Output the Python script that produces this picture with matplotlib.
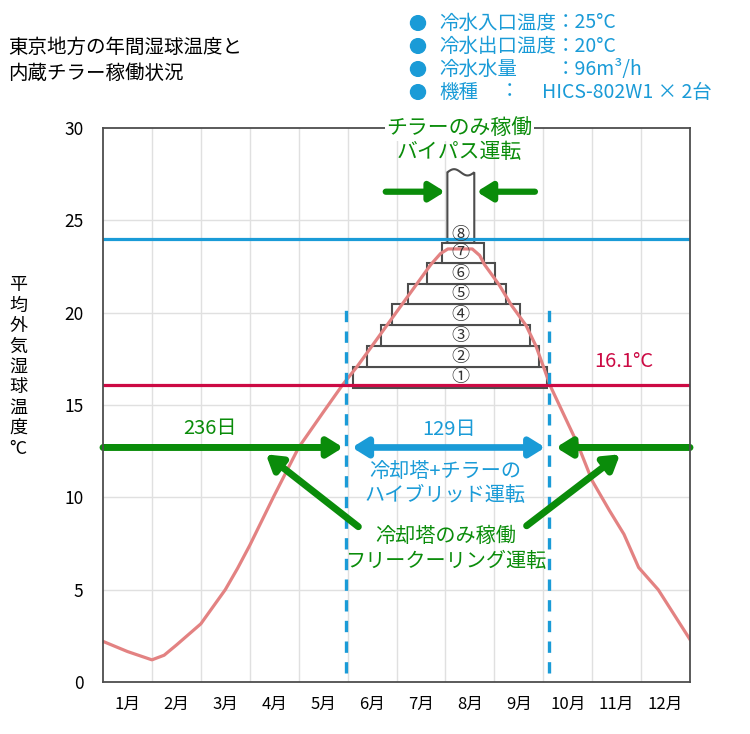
import numpy as np
import matplotlib
matplotlib.use("Agg")
import matplotlib.pyplot as plt
from matplotlib.patches import Rectangle, Polygon

plt.rcParams['font.family'] = ['Noto Sans CJK JP', 'DejaVu Sans']

# データ (月単位の位置 0-12, 湿球温度 °C)
month_labels = ['1月', '2月', '3月', '4月', '5月', '6月', '7月', '8月', '9月', '10月', '11月', '12月']
curve_x = [0, 0.5, 1.0, 1.25, 1.5, 2.0, 2.5, 2.75, 3.0, 3.25, 3.5, 4.0, 4.5, 4.9, 5.2, 5.5, 5.8, 6.1, 6.4, 6.7,
           6.9, 7.05, 7.55, 7.7, 7.8, 8.1, 8.35, 8.65, 8.85, 9.0, 9.15, 9.7, 10.0, 10.35, 10.65, 10.95, 11.35, 12.0]
curve_y = [2.2, 1.65, 1.2, 1.45, 2.0, 3.15, 5.0, 6.15, 7.4, 8.75, 10.1, 12.7, 14.6, 16.1, 17.1, 18.2, 19.3, 20.4, 21.5, 22.6,
           23.2, 23.45, 23.45, 23.1, 22.6, 21.5, 20.4, 19.3, 18.2, 17.1, 16.0, 12.9, 10.9, 9.3, 8.0, 6.2, 5.0, 2.3]

chiller_temp = 24.0
hybrid_temp = 16.1
hybrid_start = 4.97
hybrid_end = 9.12
days_free = '236日'
days_hybrid = '129日'

box_left = [5.11, 5.39, 5.68, 5.90, 6.23, 6.62, 6.94, 7.04]
box_right = [9.07, 8.92, 8.72, 8.53, 8.24, 8.02, 7.79, 7.59]
box_bottom = [15.93, 17.05, 18.19, 19.33, 20.45, 21.56, 22.67, 23.78]
box_top = [17.05, 18.19, 19.33, 20.45, 21.56, 22.67, 23.78, 27.6]
box_names = ['①', '②', '③', '④', '⑤', '⑥', '⑦', '⑧']

legend_rows = [('冷水入口温度', '：25°C'), ('冷水出口温度', '：20°C'),
               ('冷水水量', '：96m³/h'), ('機種', '：')]

BLUE = '#1A9BD7'
RED = '#CC0A44'
GREEN = '#0A8C0A'
PINK = '#E38282'
GRAY = '#4D4D4D'

fig = plt.figure(figsize=(7.5, 7.34), dpi=100)
ax = fig.add_axes([103/750, 52/734, 587/750, 554/734])
ax.set_xlim(0, 12)
ax.set_ylim(0, 30)

for s in ax.spines.values():
    s.set_color(GRAY)
    s.set_linewidth(1.3)
    s.set_zorder(6)

ax.set_yticks(range(0, 31, 5))
ax.set_xticks(np.arange(12) + 0.5)
ax.set_xticklabels(month_labels)
ax.tick_params(length=0, labelsize=12)
ax.tick_params(axis='y', pad=14, labelsize=12.5)
ax.tick_params(axis='x', pad=10)
for v in range(5, 30, 5):
    ax.axhline(v, color='#E0E0E0', lw=1, zorder=0)
for v in range(1, 12):
    ax.axvline(v, color='#E0E0E0', lw=1, zorder=0)

# チラー台数ボックス
for i in range(8):
    if i < 7:
        ax.add_patch(Rectangle((box_left[i], box_bottom[i]), box_right[i] - box_left[i],
                               box_top[i] - box_bottom[i], facecolor='white',
                               edgecolor=GRAY, lw=1.5, zorder=2))
    else:
        wx = np.linspace(box_left[i], box_right[i], 40)
        t = (wx - wx[0]) / (wx[-1] - wx[0])
        wy = box_top[i] + 0.17 * np.sin(2 * np.pi * t)
        pts = [(box_left[i], box_bottom[i])] + list(zip(wx, wy)) + [(box_right[i], box_bottom[i])]
        ax.add_patch(Polygon(pts, closed=True, facecolor='white', edgecolor=GRAY, lw=1.5, zorder=2))
    cy = (box_bottom[i] + box_top[i]) / 2 if i < 7 else box_bottom[i] + 0.45
    ax.text(7.30, cy, box_names[i], ha='center', va='center', fontsize=13, color='#333333', zorder=5)

ax.plot(curve_x, curve_y, color=PINK, lw=2.3, zorder=3, solid_joinstyle='round')
ax.axhline(chiller_temp, color=BLUE, lw=2.3, zorder=4)
ax.axhline(hybrid_temp, color=RED, lw=2.3, zorder=4)
for xv in [hybrid_start, hybrid_end]:
    ax.plot([xv, xv], [0.5, 20.4], color=BLUE, lw=2.4, dashes=(3.4, 2.8), zorder=4)


def arrow(x0, y0, x1, y1, color, style='-|>', lw=5):
    ax.annotate('', xy=(x1, y1), xytext=(x0, y0), zorder=5,
                arrowprops=dict(arrowstyle=f'{style},head_length=0.45,head_width=0.28',
                                lw=lw, color=color, shrinkA=0, shrinkB=0,
                                mutation_scale=20))


arrow(0, 12.7, 4.91, 12.7, GREEN)
arrow(12, 12.7, 9.26, 12.7, GREEN)
arrow(5.09, 12.7, 9.04, 12.7, BLUE, style='<|-|>', lw=4.8)
arrow(5.22, 8.41, 3.33, 12.33, GREEN)
arrow(8.66, 8.46, 10.57, 12.33, GREEN)
arrow(5.78, 26.55, 6.99, 26.55, GREEN, lw=4.5)
arrow(8.83, 26.55, 7.64, 26.55, GREEN, lw=4.5)

ax.text(10.65, 17.34, f'{hybrid_temp}°C', color=RED, fontsize=14.5, ha='center', va='center')
ax.text(2.19, 13.75, days_free, color=GREEN, fontsize=14.5, ha='center', va='center')
ax.text(7.07, 13.68, days_hybrid, color=BLUE, fontsize=14.5, ha='center', va='center')
ax.text(6.99, 11.39, '冷却塔+チラーの', color=BLUE, fontsize=14.5, ha='center', va='center')
ax.text(6.99, 10.12, 'ハイブリッド運転', color=BLUE, fontsize=14.5, ha='center', va='center')
ax.text(7.01, 7.87, '冷却塔のみ稼働', color=GREEN, fontsize=14.5, ha='center', va='center')
ax.text(7.01, 6.51, 'フリークーリング運転', color=GREEN, fontsize=14.5, ha='center', va='center')
ax.text(7.28, 29.98, 'チラーのみ稼働', color=GREEN, fontsize=15, ha='center', va='center',
        zorder=7, clip_on=False,
        bbox=dict(facecolor='white', edgecolor='none', pad=1))
ax.text(7.28, 28.71, 'バイパス運転', color=GREEN, fontsize=15, ha='center', va='center', zorder=7)

# タイトル・軸ラベル
fig.text(8/750, 1 - 47/734, '東京地方の年間湿球温度と', fontsize=14, va='center')
fig.text(8/750, 1 - 73/734, '内蔵チラー稼働状況', fontsize=14, va='center')
fig.text(18/750, 1 - 367/734, '\n'.join('平均外気湿球温度') + '\n°C', fontsize=13,
         ha='center', va='center', linespacing=1.17)

# 仕様
row_y = [23, 46, 69, 92]
for (lab, val), yy in zip(legend_rows, row_y):
    fig.patches.append(plt.Circle((418/750, 1 - yy/734), 7.5/750, transform=fig.transFigure,
                                  color=BLUE, figure=fig))
    fig.text(439/750, 1 - yy/734, lab, fontsize=14, color=BLUE, va='center')
    if lab == '機種':
        fig.text(500/750, 1 - yy/734, val, fontsize=14, color=BLUE, va='center')
        fig.text(542/750, 1 - yy/734, 'HICS-802W1 × 2台', fontsize=14, color=BLUE, va='center')
    else:
        fig.text(556/750, 1 - yy/734, val, fontsize=14, color=BLUE, va='center')

plt.savefig('out.png', dpi=100)
